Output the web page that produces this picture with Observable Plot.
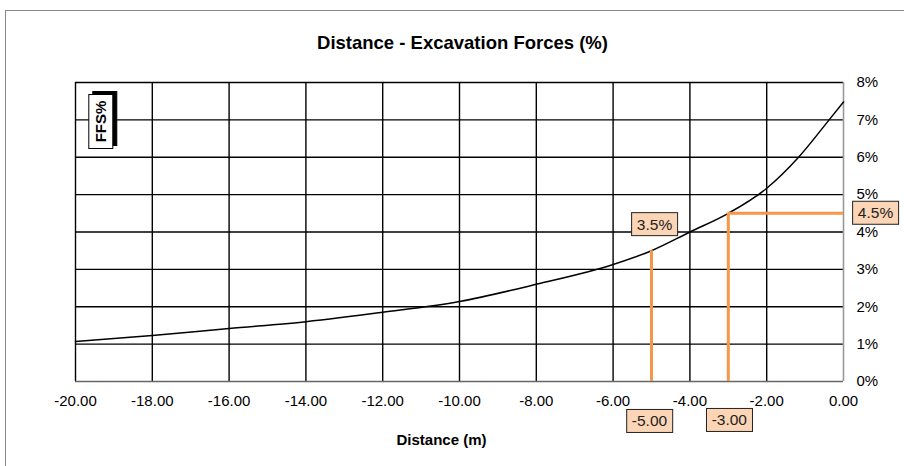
<!DOCTYPE html>
<html>
<head>
<meta charset="utf-8">
<script src="https://cdn.jsdelivr.net/npm/d3@7"></script>
<script src="https://cdn.jsdelivr.net/npm/@observablehq/plot@0.6"></script>
<style>
  html, body { margin: 0; padding: 0; background: #fff; }
  #wrap { position: relative; width: 904px; height: 466px; overflow: hidden; font-family: "Liberation Sans", Arial, sans-serif; }
  #border { position: absolute; left: 5px; top: 10px; width: 1000px; height: 1000px; border: 1px solid #8a8a8a; box-sizing: border-box; }
  #wrap svg { position: absolute; left: 0; top: 0; }
</style>
</head>
<body>
<div id="wrap"><div id="border"></div></div>
<script>
// Curve: distance (m) vs excavation forces (%)
const distance = [-20, -18, -16, -14, -12, -10, -8, -6, -5, -4, -3, -2, -1.17, -0.39, 0];
const force    = [1.07, 1.23, 1.42, 1.60, 1.85, 2.14, 2.6, 3.13, 3.5, 4.0, 4.5, 5.17, 6.0, 6.98, 7.48];

const xTicks = [-20, -18, -16, -14, -12, -10, -8, -6, -4, -2, 0];
const yTicks = [0, 1, 2, 3, 4, 5, 6, 7, 8];

// Highlighted guide readings
const guideDistance = [-5, -3];
const guideForce = [3.5, 4.5];

const titleText = "Distance - Excavation Forces (%)";
const xLabelText = "Distance (m)";
const yLabelText = "FFS%";

const curve = distance.map((d, i) => ({d, f: force[i]}));
const guides = guideDistance.map((d, i) => ({d, f: guideForce[i]}));

const orange = "#F79646";
const font = "'Liberation Sans', Arial, sans-serif";

const chart = Plot.plot({
  width: 904,
  height: 466,
  marginLeft: 75,
  marginRight: 61,
  marginTop: 82,
  marginBottom: 85,
  style: {fontFamily: font, fontSize: "15px", color: "#000", background: "transparent"},
  x: {domain: [-20, 0]},
  y: {domain: [0, 8]},
  marks: [
    Plot.ruleX(xTicks.filter(d => d !== 0), {stroke: "#000", strokeWidth: 1.4}),
    Plot.ruleY(yTicks.filter(d => d !== 0), {stroke: "#000", strokeWidth: 1.4}),
    Plot.ruleX([0], {stroke: "#999", strokeWidth: 1.6}),
    Plot.ruleY([0], {stroke: "#666", strokeWidth: 1.6}),
    Plot.line(curve, {x: "d", y: "f", curve: "monotone-x", stroke: "#000", strokeWidth: 1.5}),
    Plot.ruleX(guides, {x: "d", y1: 0, y2: "f", stroke: orange, strokeWidth: 3}),
    Plot.ruleY(guides.slice(1), {y: "f", x1: "d", x2: 0, stroke: orange, strokeWidth: 3}),
    Plot.axisX({ticks: xTicks, tickSize: 0, tickPadding: 14, tickFormat: d => d.toFixed(2), label: null, fontSize: 15}),
    Plot.axisY({anchor: "right", ticks: yTicks, tickSize: 0, tickPadding: 13, tickFormat: d => d + "%", label: null, fontSize: 15}),
    // boxed value labels
    Plot.text([guides[0]], {x: "d", y: "f", text: d => d.f.toFixed(1) + "%", dx: 3, dy: -26, fontSize: 15.5, fill: "#222"}),
    Plot.text([guides[1]], {x: 0, y: "f", text: d => d.f.toFixed(1) + "%", dx: 32, dy: 0, fontSize: 15.5, fill: "#222"}),
    Plot.text([guides[0]], {x: "d", y: 0, text: d => d.d.toFixed(2), dx: -2, dy: 40, fontSize: 15.5, fill: "#222"}),
    Plot.text([guides[1]], {x: "d", y: 0, text: d => d.d.toFixed(2), dx: 1, dy: 39, fontSize: 15.5, fill: "#222"}),
    // titles
    Plot.text([titleText], {text: d => d, frameAnchor: "top", lineAnchor: "middle", dx: 3, dy: -39, fontWeight: "bold", fontSize: 18.5}),
    Plot.text([xLabelText], {text: d => d, frameAnchor: "bottom", lineAnchor: "middle", dx: -18, dy: 59, fontWeight: "bold", fontSize: 15}),
    Plot.text([yLabelText], {text: d => d, frameAnchor: "top-left", textAnchor: "middle", lineAnchor: "middle", rotate: -90, dx: 26, dy: 39, fontWeight: "bold", fontSize: 15})
  ]
});

document.getElementById("wrap").append(chart);

const NS = "http://www.w3.org/2000/svg";
const boxTexts = new Set([
  ...guides.map(g => g.f.toFixed(1) + "%"),
  ...guides.map(g => g.d.toFixed(2))
]);
function addBox(t, w, h, fill, stroke, offset) {
  const bb = t.getBBox();
  const r = document.createElementNS(NS, "rect");
  r.setAttribute("x", bb.x + bb.width / 2 - w / 2);
  r.setAttribute("y", bb.y + bb.height / 2 - h / 2);
  r.setAttribute("width", w);
  r.setAttribute("height", h);
  r.setAttribute("fill", fill);
  r.setAttribute("stroke", stroke);
  r.setAttribute("stroke-width", 1);
  const tr = t.getAttribute("transform") || "";
  r.setAttribute("transform", (offset ? `translate(${offset[0]},${offset[1]}) ` : "") + tr);
  t.parentNode.insertBefore(r, t);
}
chart.querySelectorAll("text").forEach(t => {
  const s = t.textContent;
  if (boxTexts.has(s) && !(t.closest("g[aria-label='x-axis tick label']"))) {
    addBox(t, 46, 23, "#FBD5B5", "#222");
  } else if (s === yLabelText) {
    addBox(t, 54, 24, "#000", "#000", [4, -3]);
    addBox(t, 54, 24, "#fff", "#000");
  }
});
</script>
</body>
</html>
